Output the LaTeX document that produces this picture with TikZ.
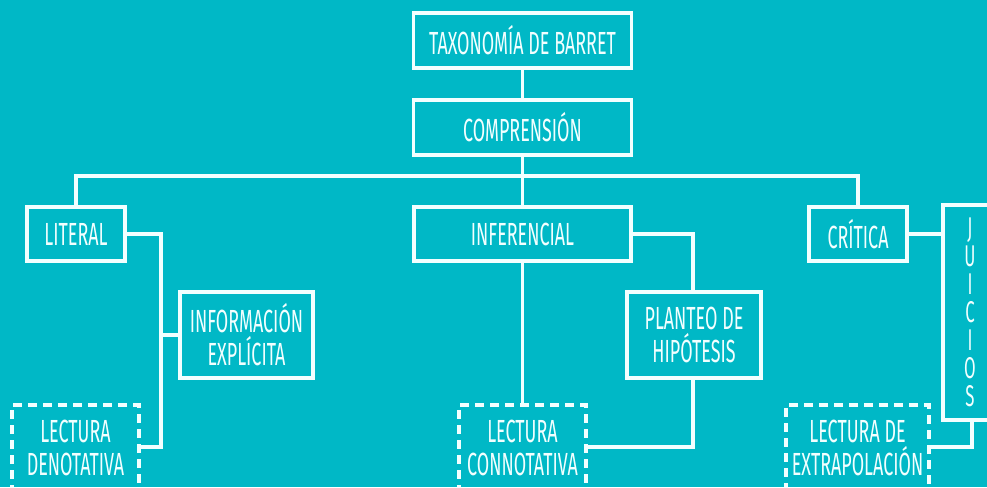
\documentclass[tikz,border=0pt]{standalone}
\usepackage{fontspec}
\setmainfont{Fira Sans}[FakeStretch=0.56]
\definecolor{bg}{HTML}{00B8C6}
\definecolor{ink}{HTML}{F2FFFF}
\begin{document}
\begin{tikzpicture}[x=1pt,y=-1pt,
  line/.style={draw=ink,line width=3.2pt},
  box/.style={draw=ink,line width=3.2pt,text=ink,align=center,inner sep=0pt,
    font=\fontsize{32}{33}\selectfont},
  dbox/.style={box,dash pattern=on 9pt off 6pt}]
\fill[bg] (0,0) rectangle (987,487);
\useasboundingbox (0,0) rectangle (987,487);
\begin{scope}
\clip (0,0) rectangle (987,487);
\node[box,minimum width=218pt,minimum height=55pt] (tax) at (522.5,40.5) {TAXONOMÍA DE BARRET};
\node[box,minimum width=218pt,minimum height=55pt] (comp) at (522.5,127.5) {COMPRENSIÓN};
\node[box,minimum width=98pt,minimum height=54pt] (lit) at (76,234) {LITERAL};
\node[box,minimum width=217pt,minimum height=54pt] (inf) at (522.5,234) {INFERENCIAL};
\node[box,minimum width=98pt,minimum height=54pt] (cri) at (858,234) {CRÍTICA};
\node[box,minimum width=133pt,minimum height=86pt] (info) at (246.5,335) {INFORMACIÓN\\EXPLÍCITA};
\node[box,minimum width=134pt,minimum height=86pt] (plan) at (694,335) {PLANTEO DE\\HIPÓTESIS};
\node[box,minimum width=54pt,minimum height=215pt,font=\fontsize{30}{28}\selectfont] (jui) at (970,312.5) {J\\U\\I\\C\\I\\O\\S};
\node[dbox,minimum width=127pt,minimum height=86pt] (den) at (75.5,448) {LECTURA\\DENOTATIVA};
\node[dbox,minimum width=127pt,minimum height=86pt] (con) at (522.5,448) {LECTURA\\CONNOTATIVA};
\node[dbox,minimum width=143pt,minimum height=86pt] (ext) at (857.5,448) {LECTURA DE\\EXTRAPOLACIÓN};
\coordinate (bus) at (522.5,176);
\coordinate (lx) at (161,447);
\coordinate (px) at (693,234);
\coordinate (jx) at (972,447);
\draw[line] (tax) -- (comp);
\draw[line] (comp.south) -- (inf.north);
\draw[line] (lit.north) |- (bus) -| (cri.north);
\draw[line] (lit.east) -| (lx) -- (den.east |- lx);
\draw[line] (info.west) -- (info.west -| lx);
\draw[line] (inf.south) -- (con.north);
\draw[line] (inf.east) -- (px) -- (plan.north -| px);
\draw[line] (plan.south -| px) |- (con.east |- jx);
\draw[line] (cri.east) -- (jui.west |- cri.east);
\draw[line] (jui.south -| jx) -- (jx) -- (ext.east |- jx);
\end{scope}
\end{tikzpicture}
\end{document}
